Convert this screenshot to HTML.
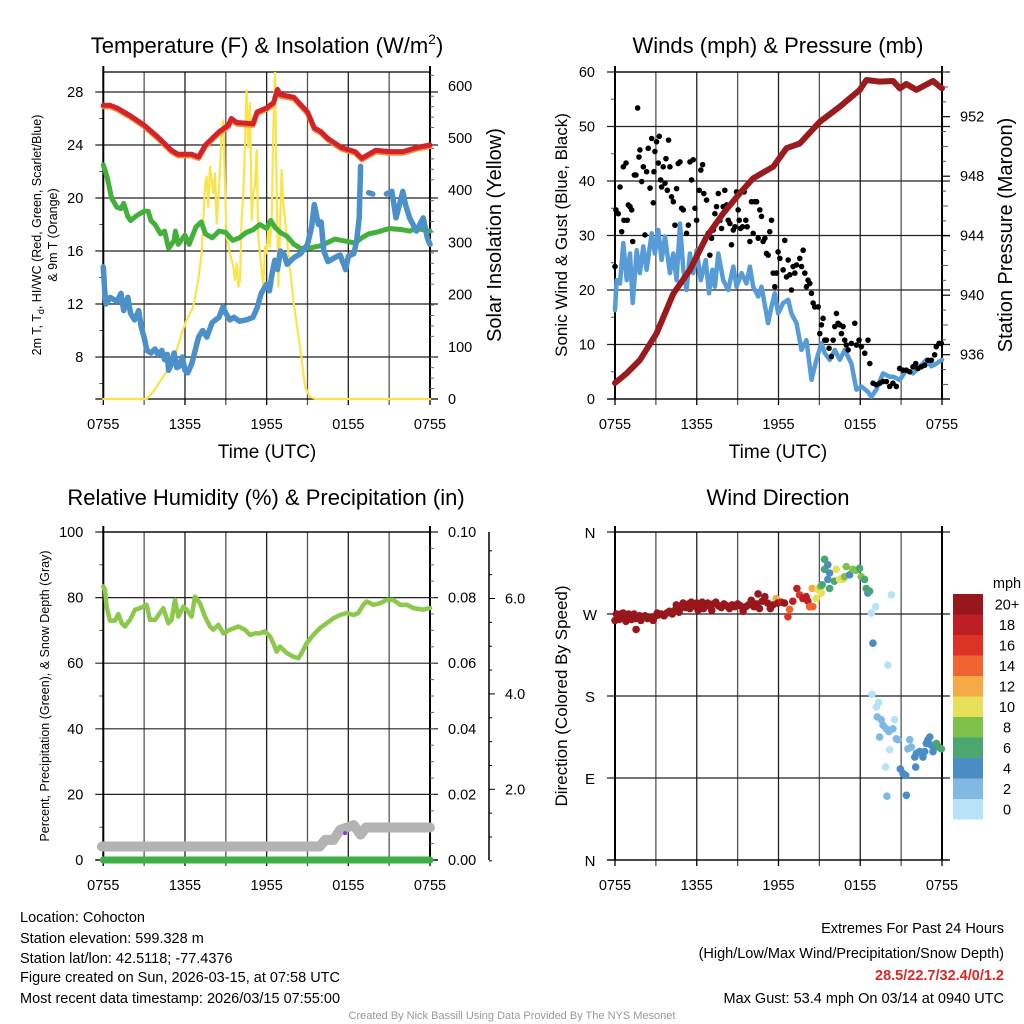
<!DOCTYPE html>
<html><head><meta charset="utf-8"><style>
html,body{margin:0;padding:0;background:#fff;}
svg{display:block;font-family:"Liberation Sans",Arial,sans-serif;}
</style></head><body>
<svg id="chart" width="1024" height="1024" viewBox="0 0 1024 1024" xmlns="http://www.w3.org/2000/svg">
<rect x="0" y="0" width="1024" height="1024" fill="#fff"/>
<text x="267" y="53" text-anchor="middle" font-size="22">Temperature (F) &amp; Insolation (W/m<tspan dy="-9" font-size="14">2</tspan><tspan dy="9">)</tspan></text>
<text x="778" y="53" text-anchor="middle" font-size="22">Winds (mph) &amp; Pressure (mb)</text>
<text x="266" y="505" text-anchor="middle" font-size="22">Relative Humidity (%) &amp; Precipitation (in)</text>
<text x="778" y="505" text-anchor="middle" font-size="22">Wind Direction</text>
<text x="267" y="458" text-anchor="middle" font-size="19">Time (UTC)</text>
<text x="778" y="458" text-anchor="middle" font-size="19">Time (UTC)</text>
<text transform="translate(41,235) rotate(-90)" text-anchor="middle" font-size="12.5">2m T, T<tspan font-size="9" dy="3">d</tspan><tspan dy="-3">, HI/WC (Red, Green, Scarlet/Blue)</tspan></text>
<text transform="translate(57,235) rotate(-90)" text-anchor="middle" font-size="12.5">&amp; 9m T (Orange)</text>
<text transform="translate(501,235) rotate(-90)" text-anchor="middle" font-size="20">Solar Insolation (Yellow)</text>
<text transform="translate(567,235) rotate(-90)" text-anchor="middle" font-size="17">Sonic Wind &amp; Gust (Blue, Black)</text>
<text transform="translate(1012,235) rotate(-90)" text-anchor="middle" font-size="20">Station Pressure (Maroon)</text>
<text transform="translate(49,696) rotate(-90)" text-anchor="middle" font-size="12.5">Percent, Precipitation (Green), &amp; Snow Depth (Gray)</text>
<text transform="translate(567,696) rotate(-90)" text-anchor="middle" font-size="17">Direction (Colored By Speed)</text>
<g font-size="14.5">
<text x="20" y="922">Location: Cohocton</text>
<text x="20" y="943">Station elevation: 599.328 m</text>
<text x="20" y="963">Station lat/lon: 42.5118; -77.4376</text>
<text x="20" y="982">Figure created on Sun, 2026-03-15, at 07:58 UTC</text>
<text x="20" y="1003">Most recent data timestamp: 2026/03/15 07:55:00</text>
</g>
<g font-size="14.5" text-anchor="end">
<text x="1004" y="933">Extremes For Past 24 Hours</text>
<text x="1004" y="958">(High/Low/Max Wind/Precipitation/Snow Depth)</text>
<text x="1004" y="980" fill="#d42a2a" font-weight="bold">28.5/22.7/32.4/0/1.2</text>
<text x="1004" y="1003">Max Gust: 53.4 mph On 03/14 at 0940 UTC</text>
</g>
<text x="512" y="1019" text-anchor="middle" font-size="11" fill="#999">Created By Nick Bassill Using Data Provided By The NYS Mesonet</text>
</svg>
<script>
// ---------- DATA ----------
const xTickLabels = ["0755","1355","1955","0155","0755"];
const tempTicks = [8,12,16,20,24,28];
const solarTicks = [0,100,200,300,400,500,600];
const windTicks = [0,10,20,30,40,50,60];
const presTicks = [936,940,944,948,952];
const rhTicks = [0,20,40,60,80,100];
const precipTicks = ["0.00","0.02","0.04","0.06","0.08","0.10"];
const snowTicks = [2.0,4.0,6.0];
const dirTicks = ["N","E","S","W","N"];
const speedBins = ["0","2","4","6","8","10","12","14","16","18","20+"];

const tempT = [0,0.5,1,2,3,4,5,5.5,6.5,7,7.5,8.5,9.2,9.4,9.8,11,11.3,12,12.5,12.8,13,14,15,15.5,16,16.5,17.5,18.5,19,19.5,20,21,22,23,24];
const tempV = [27.0,27.0,26.8,26.2,25.5,24.6,23.6,23.3,23.3,23.1,24,25,25.5,26,25.7,25.6,26.5,26.8,27.2,28.2,27.8,27.6,26.5,25.3,25,24.5,23.8,23.5,23,23.3,23.6,23.5,23.5,23.8,24];
const dewT = [0,0.3,0.6,1,1.3,1.5,1.8,2,2.5,3,3.3,3.5,3.8,4.2,4.5,4.8,5.2,5.3,5.5,6,6.3,6.8,7.2,7.5,8,8.5,9,9.5,10,10.5,11,11.5,12,12.3,12.6,13,13.5,14,14.5,15,16,17,18,18.5,19,19.5,20,21,22,22.5,23,24];
const dewV = [22.5,21.5,20,19.3,19.2,19.6,18.6,18.3,18.7,19,19,18.3,18,17.3,17.5,16.2,16.8,17.5,16.5,17.2,16.5,17.8,18.2,17.3,17,17.5,17.4,16.8,17,17.4,17.6,18,17.7,18.3,17.8,17.4,17.1,16.5,16.2,16.2,16.4,16.9,16.7,16.6,17,17.3,17.4,17.7,17.6,17.5,17.7,17.5];
const wcT = [0,0.1,0.2,0.5,1,1.3,1.5,1.8,2,2.3,2.6,2.8,3,3.2,3.5,3.8,4,4.3,4.5,4.7,4.8,5,5.2,5.4,5.6,5.8,6,6.2,6.5,7,7.3,7.6,8,8.5,8.8,9,9.3,9.6,10,10.5,11,11.3,11.6,12,12.2,12.4,12.6,12.8,13,13.3,13.5,14,14.5,15,15.3,15.5,15.8,16,16.2,16.5,17,17.4,17.8,18,18.4,18.6,18.8,18.9,19.3,19.5,19.8,20.2,20.8,21.2,21.5,22,22.2,22.5,23,23.5,23.8,24];
const wcV = [14.8,13,12,12.5,12.2,12.8,11.5,12.5,11.3,10.8,11.5,10.2,9.5,8.5,8.3,8.6,8.2,8.5,7.8,8.2,7,7.5,8.3,7.2,7.3,8,7,6.8,7.5,9.5,10,9.5,10.6,11,11.8,11.3,10.8,11,10.7,10.8,11,11.7,12.8,13.5,13,14.3,15.3,14.6,16,15.7,15,15.5,15.8,16.5,17.8,19.5,18,18.2,16,15.2,15.5,15.7,14.6,15.6,15.8,16.7,18.5,22.4,null,20.4,20.3,null,20.3,20.5,18.5,20.5,19.5,18.5,17.5,18.5,17,16.5];
const solarT = [0,3.18,3.67,4.41,4.9,5.27,5.39,5.76,6.12,6.61,6.98,7.22,7.47,7.59,7.71,7.84,8.08,8.2,8.33,8.45,8.57,8.69,8.82,8.94,9.06,9.31,9.55,9.67,9.8,9.92,10.04,10.16,10.29,10.53,10.65,10.78,10.9,11.02,11.14,11.27,11.39,11.63,11.76,11.88,12,12.12,12.24,12.37,12.49,12.61,12.73,12.86,12.98,13.1,13.22,13.47,13.96,14.45,14.82,15.18,15.67,24];
const solarV = [0,0,14,43,62,68,94,126,151,177,228,279,407,426,368,445,394,432,336,381,439,515,534,407,311,279,254,228,260,215,228,343,394,592,483,567,343,394,407,477,311,247,215,292,279,330,292,349,515,627,407,215,324,439,375,311,190,100,24,4,0,0];

const presT = [0,0.86,1.83,3.05,4.28,5.5,6.72,7.94,9.16,10.14,11.61,12.59,13.56,15.03,16.5,17.96,18.45,19.43,20.41,20.9,21.38,22.12,23.34,24];
const presV = [934.1,934.75,935.64,937.44,940.1,941.7,943.93,945.5,946.85,947.86,948.64,949.88,950.2,951.66,952.67,953.8,954.47,954.36,954.4,953.9,954.2,953.8,954.4,953.9];
const windT = [0,0.12,0.37,0.61,0.86,1.1,1.3,1.59,1.83,2.08,2.32,2.69,2.93,3.18,3.42,3.67,4.03,4.28,4.52,4.77,5.01,5.25,5.5,5.74,5.99,6.3,6.66,6.9,7.15,7.33,7.58,7.94,8.31,8.68,8.92,9.29,9.65,9.9,10.14,10.51,10.75,11.24,11.48,11.73,11.97,12.34,12.71,12.95,13.32,13.69,14.05,14.42,14.78,15.15,15.39,15.76,16.13,16.5,16.86,17.35,17.72,18.08,18.57,18.82,19.18,19.67,20.16,20.41,20.9,21.38,21.87,22.36,22.85,23.22,23.58,24];
const windV = [16.3,21.8,21.2,28.6,21.8,26.7,17.6,27.3,23.1,28,23.7,30.4,26.7,31,25.5,29.8,23.1,26.7,21.8,32.2,23.7,20,26.7,23.1,27.3,21.8,25.5,19.4,23.7,20.6,26.7,21.8,20,24.3,20.6,23.1,21.2,24.3,20.6,18.8,20.6,13.9,16.9,19.4,15.7,17.6,18.2,15.7,13.9,9,10.8,3.5,7.2,10.2,8.4,7.2,9,7.2,9,6.5,1.7,2.3,1.3,0.4,1.7,4.7,4.1,4.1,3.5,5.3,4.7,5.9,7.2,6,6.5,7.2];
const gustT = [0,0.07,0.24,0.37,0.49,0.61,0.66,0.81,0.9,0.98,1.1,1.22,1.3,1.42,1.54,1.66,1.76,1.83,1.96,2.08,2.2,2.32,2.44,2.57,2.69,2.81,2.86,2.93,3.05,3.18,3.25,3.35,3.42,3.54,3.67,3.74,3.84,3.93,4.03,4.15,4.28,4.4,4.52,4.64,4.77,4.89,5.01,5.25,5.38,5.5,5.62,5.74,5.87,5.99,6.18,6.3,6.43,6.52,6.72,6.84,6.96,7.09,7.21,7.33,7.45,7.58,7.7,7.82,7.94,8.06,8.19,8.31,8.43,8.55,8.68,8.8,8.92,9.04,9.12,9.21,9.36,9.48,9.6,9.7,9.9,10.02,10.14,10.26,10.39,10.51,10.63,10.75,10.87,11,11.12,11.24,11.36,11.49,11.61,11.73,11.85,11.97,12.1,12.34,12.46,12.59,12.71,12.83,12.95,13.07,13.2,13.32,13.56,13.69,13.81,13.93,14.05,14.17,14.3,14.42,14.54,14.66,14.91,15.03,15.15,15.27,15.4,15.52,15.71,15.88,16.01,16.13,16.25,16.37,16.5,16.62,16.74,16.86,16.98,17.11,17.35,17.6,17.72,17.91,18.08,18.33,18.57,18.7,18.94,19.18,19.43,19.67,19.92,20.16,20.4,20.65,20.89,21.14,21.38,21.63,21.87,22.07,22.24,22.48,22.73,22.97,23.22,23.46,23.58,23.78,23.95];
const gustV = [24.3,34.7,34,38.9,30.7,42.6,32.8,43.3,32.8,35.6,35.3,34.7,28.9,41.1,41.1,53.4,44.4,45.7,39.9,42.6,30.1,41.7,46,38.7,47.8,36,41.7,45.4,47.2,43.3,48.2,40.2,38.9,42.6,39.6,44.1,38.3,47.5,42.6,37.1,36.2,31.9,38.6,43.2,43.5,35,34.7,30.4,31.9,43.5,40.2,43.9,35,32.8,38.3,42,43,37.7,36.5,30.4,26.4,29.5,31,34,35.3,37.7,32.8,31.3,35.3,38.3,35.6,32.8,32.2,28.3,31,31.6,38,34.7,32.8,31.3,31.6,38,32.8,31.6,28.9,36.2,30.4,36.2,36.2,29.5,34.7,33.5,28.9,29.5,26.7,26.4,30.7,32.8,23.1,20.6,23.1,27,25.8,23.7,29.1,22.4,25.5,22.8,20,24.3,23.1,24.6,25.8,24.3,27.3,23.1,20.6,21.8,21.2,19.4,17.6,16.9,16.9,12,13.6,14.8,10.8,10.8,9.3,7.8,10.8,13.3,15.7,13.9,13.6,12,13.3,10.8,9.9,9,10.2,13.9,9.9,10.8,9.6,8.4,10.8,6.5,2.9,2.6,2.9,3.2,3.2,2.3,2.9,2.3,5.6,5.3,5.3,5,5.9,6.5,5.6,5.9,6.2,7.1,7.1,8.1,9.6,10.2,10.2];

const rhT = [0,0.12,0.25,0.49,0.86,1.1,1.35,1.59,1.96,2.33,2.69,3.18,3.43,3.8,4.16,4.41,4.78,5.02,5.27,5.51,5.88,6.12,6.49,6.74,7.1,7.47,7.84,8.08,8.45,8.82,9.31,9.92,10.41,10.78,11.14,11.51,11.88,12.25,12.49,12.74,12.98,13.47,13.96,14.33,14.57,14.94,15.43,15.92,16.41,16.9,17.39,17.88,18.37,18.73,19.1,19.35,19.84,20.33,20.82,21.31,21.8,22.29,22.78,23.51,24];
const rhV = [83.4,82.4,77.1,73,73,75,72.2,71.2,73.2,76.3,76.8,77.8,73.2,73.2,75.3,76.8,72.2,73.2,79.3,74.2,77.3,76.3,74.2,80.3,78.3,74.2,71.2,70.2,71.7,69.1,70.2,71.2,70.2,68.6,69.1,69.1,69.7,68.1,66.1,63.5,65.1,63.1,62,61.5,63.1,66.1,68.6,70.7,72.2,73.7,74.7,75.3,74.7,75.3,77.8,78.8,77.8,78.3,79.3,79.3,77.8,77.8,76.8,76.3,76.8];
const snowT = [-0.1,15.9,16.3,16.9,17.4,17.9,18.4,18.9,19.3,24];
const snowV = [0.8,0.8,0.94,0.94,1.15,1.2,1.25,1.05,1.2,1.2];
const precipT = [0,24];
const precipV = [0,0];
const markerT = [17.76];
const markerSnow = [1.08];

const dirT = [0,0.1,0.2,0.3,0.4,0.5,0.6,0.7,0.8,0.9,1.0,1.1,1.2,1.3,1.4,1.5,1.55,1.7,1.8,1.9,2.0,2.2,2.4,2.6,2.8,3.0,3.1,3.2,3.4,3.6,3.8,4.0,4.2,4.4,4.5,4.6,4.7,4.8,5.0,5.1,5.2,5.4,5.5,5.6,5.8,6.0,6.1,6.2,6.4,6.5,6.6,6.8,7.0,7.1,7.2,7.4,7.6,7.8,8.0,8.2,8.4,8.6,8.8,9.0,9.2,9.4,9.6,9.8,10.0,10.2,10.4,10.5,10.6,10.8,11.0,11.2,11.4,11.58,11.83,11.95,12.2,12.44,12.69,12.81,13.05,13.35,13.54,13.79,14.03,14.16,14.28,14.47,14.52,14.77,14.89,15.09,15.14,15.2,15.38,15.38,15.62,15.62,15.75,15.75,16.1,16.24,16.48,16.6,16.73,16.85,16.97,17.22,17.46,17.71,17.95,18.07,18.32,18.44,18.56,18.69,18.81,18.86,18.93,19.13,19.18,19.25,19.35,19.42,19.54,19.67,19.86,19.91,19.96,20.03,20.1,20.16,20.28,20.4,20.52,20.65,20.77,20.94,21.14,21.33,21.38,21.5,21.63,21.75,22.0,22.07,22.12,22.36,22.6,22.73,22.85,22.97,23.1,23.22,23.34,23.46,23.55,23.59,23.76,23.95];
const dirV = [263,270,268,264,270,267,271,265,262,268,270,266,264,268,270,265,253,266,268,263,266,268,265,266,263,268,271,269,270,268,271,273,270,274,280,278,272,276,282,279,277,281,276,283,279,282,274,280,283,276,279,282,278,274,281,283,279,277,281,279,276,280,278,281,279,273,278,280,285,278,281,292,276,284,289,282,276,280,287,282,283,282,267,275,284,298,291,287,289,284,278,298,278,287,297,300,293,302,330,319,324,308,315,298,306,319,308,309,308,311,322,313,319,318,320,311,308,298,293,295,271,182,238,278,168,157,173,135,154,148,102,144,70,214,141,121,291,144,154,133,132,100,95,93,71,122,132,124,113,102,117,119,113,119,128,132,135,126,119,124,126,128,124,122];
const dirS = [22,22,22,22,22,22,22,22,22,22,22,22,22,22,22,22,22,22,22,22,22,22,22,22,22,22,22,22,22,22,22,22,22,22,22,22,22,22,22,22,22,22,22,22,22,22,22,22,22,22,22,22,22,22,22,22,22,22,22,22,22,22,22,22,22,22,22,22,22,22,22,22,22,22,22,22,22,22,13,22,19,22,17,15,19,19,17,19,19,19,15,13,15,11,11,9,11,7,7,7,5,5,5,7,7,11,11,11,11,9,9,5,9,9,7,9,7,7,5,7,1,1,5,1,1,3,1,3,3,3,1,3,3,1,3,1,1,3,1,3,3,5,5,5,5,3,3,3,5,5,5,5,5,5,5,5,5,5,5,5,5,7,7,7];

// ---------- DRAWING ----------
const NS = "http://www.w3.org/2000/svg";
const svg = document.getElementById('chart');
function mk(tag, attrs, parent){
  const e = document.createElementNS(NS, tag);
  for (const k in attrs) e.setAttribute(k, attrs[k]);
  (parent || svg).appendChild(e);
  return e;
}
const speedColors = ["#b7e2f8","#80bae3","#4a8dc4","#4ba671","#7ec14b","#e8df5a","#f6a947","#ef6430","#dd3327","#bd1e24","#98171c"];
function speedColor(s){ return speedColors[Math.min(10, Math.max(0, Math.floor(s/2)))]; }

const P1 = {x0:103.3,x1:430,y0:72,y1:399};
const P2 = {x0:615,x1:942,y0:72,y1:399};
const P3 = {x0:103.3,x1:430,y0:532,y1:860};
const P4 = {x0:615,x1:942,y0:532,y1:860};
function xs(P){ return t => P.x0 + t*(P.x1-P.x0)/24; }
const y1L = v => 92 + (28-v)*13.25;
const y1R = v => 399 - v*0.522;
const y2L = v => 399 - v*5.45;
const y2R = v => 354.7 - (v-936)*14.875;
const y3L = v => 860 - v*3.28;
const y3P = v => 860 - v*3280;
const y3S = v => 884.7 - v*47.7;
const y4 = d => 860 - d*328/360;

function frame(P, name, yTicksPix, yMinorPix, xLabels){
  const g = mk('g', {});
  
  
  for (let i=0;i<=8;i++){
    const x = P.x0 + i*(P.x1-P.x0)/8;
    const l = mk('line',{x1:x,x2:x,y1:P.y0,y2:P.y1+(i%2===0?0:6),stroke:(i%2? '#555':'#222'),'stroke-width':1.3},g);
    
    
    if (i%2===0){
      const tl = mk('line',{x1:x,x2:x,y1:P.y1,y2:P.y1+6,stroke:'#000','stroke-width':1.3},g);
      
      
      const tx = mk('text',{x:x,y:P.y1+30,'text-anchor':'middle','font-size':14.5},g);
      tx.textContent = xLabels[i/2];
      
      
    }
  }
  yTicksPix.forEach(y=>{
    const l = mk('line',{x1:P.x0-8,x2:P.x1+8,y1:y,y2:y,stroke:'#222','stroke-width':1.2},g);
    
    
  });
  yMinorPix.forEach(y=>{
    const l = mk('line',{x1:P.x0-4,x2:P.x0,y1:y,y2:y,stroke:'#555','stroke-width':1},g);
    
    
  });
  const b1 = mk('line',{x1:P.x0,x2:P.x0,y1:P.y0-6,y2:P.y1,stroke:'#000','stroke-width':2},g);
  
  
  const b2 = mk('line',{x1:P.x1,x2:P.x1,y1:P.y0-6,y2:P.y1,stroke:'#000','stroke-width':2},g);
  
  
  const b3 = mk('line',{x1:P.x0,x2:P.x1,y1:P.y0,y2:P.y0,stroke:'#000','stroke-width':1.3},g);
  
  
  const b4 = mk('line',{x1:P.x0-8,x2:P.x1+8,y1:P.y1,y2:P.y1,stroke:'#000','stroke-width':1.3},g);
  
  
}
function label(x,y,txt,anchor,name,size){
  const t = mk('text',{x:x,y:y,'text-anchor':anchor,'font-size':size||14.5});
  t.textContent = txt;
  
  
  return t;
}
function pathD(ts, vs, xf, yf){
  let d='', pen=false;
  for (let i=0;i<ts.length;i++){
    if (vs[i]===null || vs[i]===undefined){ pen=false; continue; }
    d += (pen?'L':'M') + xf(ts[i]).toFixed(1) + ',' + yf(vs[i]).toFixed(1);
    pen=true;
  }
  return d;
}
function line(ts, vs, xf, yf, color, w, name, clip){
  const p = mk('path',{d:pathD(ts,vs,xf,yf),fill:'none',stroke:color,'stroke-width':w,'stroke-linejoin':'round','stroke-linecap':'round'});
  if (clip) p.setAttribute('clip-path', clip);
  
  
  return p;
}
const defs = mk('defs',{});
[['c1',P1],['c2',P2],['c3',P3],['c4',P4]].forEach(([id,P])=>{
  const cp = mk('clipPath',{id:id},defs);
  mk('rect',{x:P.x0-6,y:P.y0,width:P.x1-P.x0+12,height:P.y1-P.y0+6},cp);
});

// ----- Panel 1 -----
const x1f = xs(P1);
frame(P1,'temperature',tempTicks.map(y1L),[10,14,18,22,26,6].map(y1L),xTickLabels);
tempTicks.forEach(v=>label(P1.x0-20,y1L(v)+5,String(v),'end','temp-tick-label'));
solarTicks.forEach(v=>{
  label(P1.x1+18,y1R(v)+5,String(v),'start','solar-tick-label');
});
[20,40,60,80,120,140,160,180,220,240,260,280,320,340,360,380,420,440,460,480,520,540,560,580,620].forEach(v=>{
  const l = mk('line',{x1:P1.x1,x2:P1.x1+4,y1:y1R(v),y2:y1R(v),stroke:'#666','stroke-width':1});
  
  
});
line(solarT,solarV,x1f,y1R,'#fbe34a',2.2,'solar-line','url(#c1)');
line(dewT,dewV,x1f,y1L,'#44b03c',5,'dewpoint-line','url(#c1)');
line(wcT,wcV,x1f,y1L,'#4b90c9',5.5,'windchill-line','url(#c1)');
line(tempT,tempV.map(v=>v-0.12),x1f,y1L,'#f58a33',5,'9m-temp-line','url(#c1)');
line(tempT,tempV,x1f,y1L,'#d4222a',5,'2m-temp-line','url(#c1)');

// ----- Panel 2 -----
const x2f = xs(P2);
frame(P2,'winds',windTicks.map(y2L),[5,15,25,35,45,55].map(y2L),xTickLabels);
windTicks.forEach(v=>label(P2.x0-20,y2L(v)+5,String(v),'end','wind-tick-label'));
presTicks.forEach(v=>label(P2.x1+18,y2R(v)+5,String(v),'start','pressure-tick-label'));
[934,935,937,938,939,941,942,943,945,946,947,949,950,951,953,954,955].forEach(v=>{
  const l = mk('line',{x1:P2.x1,x2:P2.x1+(v%2?4:6),y1:y2R(v),y2:y2R(v),stroke:'#555','stroke-width':1});
  
  
});
presTicks.forEach(v=>{
  const l = mk('line',{x1:P2.x1,x2:P2.x1+8,y1:y2R(v),y2:y2R(v),stroke:'#000','stroke-width':1.2});
  
  
});
line(windT,windV,x2f,y2L,'#579cd6',4.5,'sonic-wind-line','url(#c2)');
const gg = mk('g',{fill:'#000'});


gustT.forEach((t,i)=>{
  const c = mk('circle',{cx:x2f(t),cy:y2L(gustV[i]),r:2.8},gg);
  
  
});
line(presT,presV,x2f,y2R,'#9a1b1e',6,'pressure-line','url(#c2)');

// ----- Panel 3 -----
const x3f = xs(P3);
frame(P3,'humidity',rhTicks.map(y3L),[10,30,50,70,90].map(y3L),xTickLabels);
rhTicks.forEach(v=>label(P3.x0-20,y3L(v)+5,String(v),'end','rh-tick-label'));
precipTicks.forEach(s=>label(P3.x1+18,y3P(parseFloat(s))+5,s,'start','precip-tick-label'));
for (let v=0.005; v<0.1; v+=0.005){
  const l = mk('line',{x1:P3.x1,x2:P3.x1+4,y1:y3P(v),y2:y3P(v),stroke:'#666','stroke-width':1});
  
  
}
const sa = mk('line',{x1:489,x2:489,y1:532,y2:860,stroke:'#000','stroke-width':1.5});


for (let v=0.5; v<=7; v+=0.5){
  const y = y3S(v); if (y<532) continue;
  const l = mk('line',{x1:489,x2:489+(v%2===0?6:3),y1:y,y2:y,stroke:'#000','stroke-width':1});
  
  
}
snowTicks.forEach(v=>label(505,y3S(v)+5,v.toFixed(1),'start','snow-tick-label'));
line(snowT,snowV,x3f,y3S,'#b3b3b3',10,'snow-depth-line');
line(precipT,precipV,x3f,y3P,'#3fae49',7,'precip-line');
line(rhT,rhV,x3f,y3L,'#8cc84b',4.5,'rh-line','url(#c3)');
markerT.forEach((t,i)=>{
  const c = mk('circle',{cx:x3f(t),cy:y3S(markerSnow[i]),r:2,fill:'#9b30e0'});
  
  
});

// ----- Panel 4 -----
const x4f = xs(P4);
frame(P4,'direction',[0,90,180,270,360].map(y4),[],xTickLabels);
dirTicks.forEach((s,i)=>label(590,y4(i*90)+6,s,'middle','direction-tick-label',15));
const dg = mk('g',{});


dirT.forEach((t,i)=>{
  const c = mk('circle',{cx:x4f(t),cy:y4(dirV[i]),r:3.8,fill:speedColor(dirS[i])},dg);
  
  
});
const cbTop = 594;
label(1007,588,'mph','middle','colorbar-title',14.5);
for (let k=10;k>=0;k--){
  const idx = 10-k;
  const r = mk('rect',{x:953,y:cbTop+idx*20.5,width:30,height:20.5,fill:speedColors[k]});
  
  
  label(1007,cbTop+idx*20.5+15.5,speedBins[k],'middle','colorbar-label',14.5);
}
</script>
</body></html>
